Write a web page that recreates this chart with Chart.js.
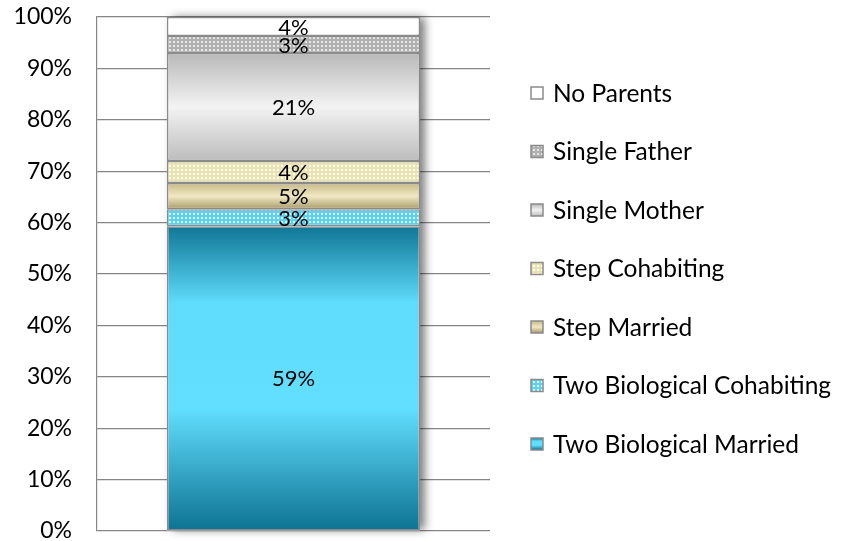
<!DOCTYPE html>
<html>
<head>
<meta charset="utf-8">
<script src="https://cdn.jsdelivr.net/npm/chart.js@4.4.0/dist/chart.umd.min.js"></script>
<style>
  html, body { margin: 0; padding: 0; background: #ffffff; }
  #wrap { width: 848px; height: 541px; position: relative; }
</style>
</head>
<body>
<div id="wrap"><canvas id="c" width="848" height="541"></canvas></div>
<script>
// ---- data ----
const categories = ['Family Structure'];
const seriesNames = ['Two Biological Married', 'Two Biological Cohabiting', 'Step Married',
                     'Step Cohabiting', 'Single Mother', 'Single Father', 'No Parents'];
const seriesValues = [59.3, 3.3, 5.1, 4.3, 21.0, 3.3, 3.7];
const segmentLabels = ['59%', '3%', '5%', '4%', '21%', '3%', '4%'];
const yTicks = [0, 10, 20, 30, 40, 50, 60, 70, 80, 90, 100];

// ---- styles ----
const FONT = 'Lato, "Open Sans", sans-serif';
const BORDER = '#8a8a8a';

function dotPattern(base, dot) {
  const c = document.createElement('canvas');
  c.width = 4; c.height = 4;
  const x = c.getContext('2d');
  x.fillStyle = base; x.fillRect(0, 0, 4, 4);
  x.fillStyle = dot; x.fillRect(1, 1, 2, 2);
  return x.createPattern(c, 'repeat');
}

const fillStyles = [
  { type: 'grad', stops: [[0, '#107696'], [0.25, '#5fdbfb'], [0.6, '#62defe'], [1, '#0d7292']], flat: '#3bb4d8' },
  { type: 'pat', base: '#52d5f7', dot: '#ffffff' },
  { type: 'grad', stops: [[0, '#c6b886'], [0.5, '#f1e9c4'], [1, '#a8996a']], flat: '#ddd2a4' },
  { type: 'pat', base: '#ece2ae', dot: '#ffffff' },
  { type: 'grad', stops: [[0, '#b8b8b8'], [0.5, '#f3f3f3'], [1, '#bcbcbc']], flat: '#dddddd' },
  { type: 'pat', base: '#b0b0b0', dot: '#e8e8e8' },
  { type: 'flat', color: '#ffffff' }
];

function makeFill(ctx2d, style, top, bottom) {
  if (style.type === 'flat') return style.color;
  if (style.type === 'pat') return dotPattern(style.base, style.dot);
  const g = ctx2d.createLinearGradient(0, top, 0, bottom);
  style.stops.forEach(s => g.addColorStop(s[0], s[1]));
  return g;
}

function segFill(i) {
  return function (context) {
    const chart = context.chart;
    const st = fillStyles[i];
    if (st.type !== 'grad') return makeFill(chart.ctx, st);
    if (!chart.chartArea || !chart.scales.y) return st.flat;
    let cum = 0;
    for (let k = 0; k < i; k++) cum += seriesValues[k];
    const y = chart.scales.y;
    const top = y.getPixelForValue(cum + seriesValues[i]);
    const bottom = y.getPixelForValue(cum);
    return makeFill(chart.ctx, st, top, bottom);
  };
}

const datasets = seriesNames.map((name, i) => ({
  label: name,
  data: [seriesValues[i]],
  backgroundColor: segFill(i),
  borderColor: BORDER,
  borderWidth: 1.5,
  borderSkipped: false,
  barPercentage: 0.644,
  categoryPercentage: 1.0
}));

// shadow behind the stacked bar
const shadowPlugin = {
  id: 'barShadow',
  beforeDatasetsDraw(chart) {
    const first = chart.getDatasetMeta(0).data[0];
    const last = chart.getDatasetMeta(chart.data.datasets.length - 1).data[0];
    if (!first || !last) return;
    const ctx = chart.ctx;
    const w = first.width;
    ctx.save();
    ctx.shadowColor = 'rgba(0,0,0,0.55)';
    ctx.shadowBlur = 9;
    ctx.shadowOffsetX = 5;
    ctx.shadowOffsetY = 0;
    ctx.fillStyle = '#ffffff';
    ctx.fillRect(first.x - w / 2, last.y, w, first.base - last.y);
    ctx.restore();
  }
};

// labels inside segments
const labelPlugin = {
  id: 'segLabels',
  afterDatasetsDraw(chart) {
    const ctx = chart.ctx;
    ctx.save();
    ctx.font = '22px ' + FONT;
    ctx.fillStyle = '#000000';
    ctx.textAlign = 'center';
    ctx.textBaseline = 'middle';
    chart.data.datasets.forEach((ds, i) => {
      const el = chart.getDatasetMeta(i).data[0];
      if (!el) return;
      ctx.fillText(segmentLabels[i], el.x, (el.y + el.base) / 2 + 1);
    });
    ctx.restore();
  }
};

// legend on the right (reverse order)
const legendPlugin = {
  id: 'sideLegend',
  afterDraw(chart) {
    const ctx = chart.ctx;
    const boxX = 531, textX = 553, box = 12, startY = 93, step = 58.5;
    ctx.save();
    ctx.font = '24.5px ' + FONT;
    ctx.textBaseline = 'middle';
    ctx.textAlign = 'left';
    for (let r = 0; r < seriesNames.length; r++) {
      const i = seriesNames.length - 1 - r;
      const cy = startY + r * step;
      const top = cy - box / 2;
      ctx.fillStyle = makeFill(ctx, fillStyles[i], top, top + box);
      ctx.fillRect(boxX, top, box, box);
      ctx.lineWidth = 1.5;
      ctx.strokeStyle = BORDER;
      ctx.strokeRect(boxX, top, box, box);
      ctx.fillStyle = '#000000';
      ctx.fillText(seriesNames[i], textX, cy + 1);
    }
    ctx.restore();
  }
};

new Chart(document.getElementById('c'), {
  type: 'bar',
  data: { labels: categories, datasets: datasets },
  plugins: [shadowPlugin, labelPlugin, legendPlugin],
  options: {
    responsive: false,
    animation: false,
    devicePixelRatio: 1,
    layout: { padding: { top: 17, bottom: 10, left: 0, right: 358 } },
    plugins: { legend: { display: false }, tooltip: { enabled: false } },
    scales: {
      x: { stacked: true, display: false },
      y: {
        stacked: true,
        min: 0, max: 100,
        afterBuildTicks(scale) { scale.ticks = yTicks.map(v => ({ value: v })); },
        afterFit(scale) { scale.width = 97; scale.paddingTop = 0; scale.paddingBottom = 0; },
        ticks: {
          padding: 25,
          color: '#000000',
          font: { family: FONT, size: 23 },
          callback: v => v + '%'
        },
        grid: { color: '#868686', lineWidth: 1.2, drawTicks: false },
        border: { color: '#868686', width: 1.2 }
      }
    }
  }
});
</script>
</body>
</html>
